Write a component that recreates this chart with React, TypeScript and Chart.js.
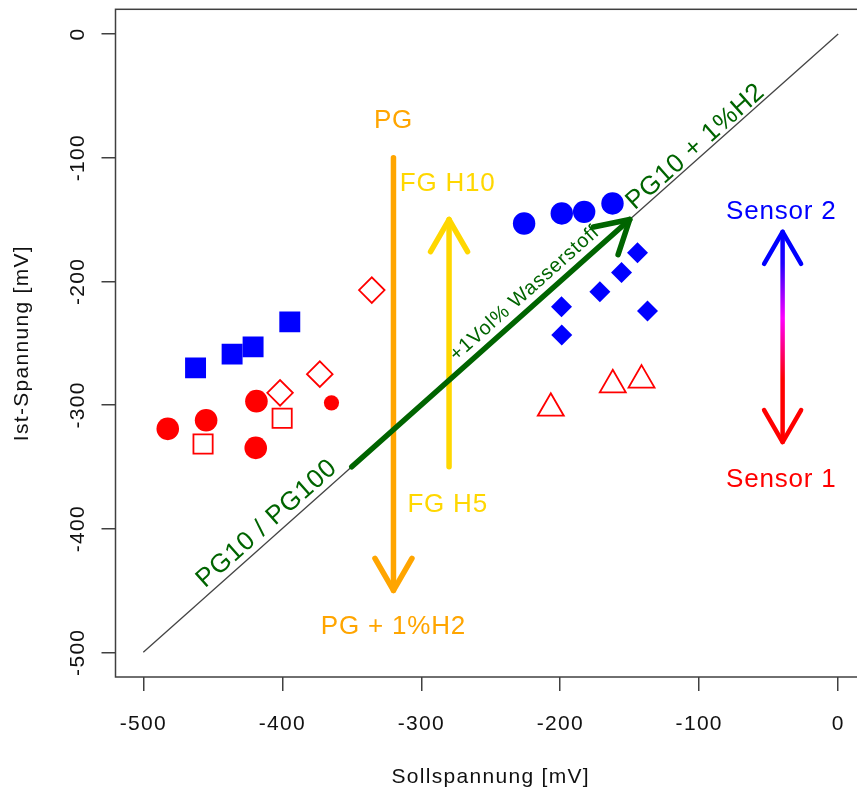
import { useEffect, useRef } from "react";
import { Chart, registerables } from "chart.js";

Chart.register(...registerables);

const FONT = '"Liberation Sans", Arial, Helvetica, sans-serif';

// Axis ticks (mV)
const xTickValues = [-500, -400, -300, -200, -100, 0];
const yTickValues = [-500, -400, -300, -200, -100, 0];

// Sensor 2 (blue) measurements
const s2SquareX = [-462.4, -436.1, -421.0, -394.6];
const s2SquareY = [-270.0, -258.9, -253.0, -232.8];
const s2CircleX = [-226.0, -198.9, -182.8, -162.4];
const s2CircleY = [-153.2, -145.1, -143.8, -137.0];
const s2DiamondX = [-144.4, -155.9, -171.5, -199.1, -137.2, -198.9];
const s2DiamondY = [-176.9, -192.8, -208.5, -220.6, -223.9, -243.5];

// Sensor 1 (red) measurements
const s1CircleX = [-482.4, -454.8, -418.6, -419.1];
const s1CircleY = [-319.3, -312.3, -296.9, -334.7];
const s1DotX = [-364.6];
const s1DotY = [-298.3];
const s1OpenSquareX = [-457.0, -400.1];
const s1OpenSquareY = [-331.5, -310.7];
const s1OpenDiamondX = [-401.6, -373.0, -335.6];
const s1OpenDiamondY = [-290.2, -275.1, -207.1];
const s1TriangleX = [-206.8, -162.2, -141.5];
const s1TriangleY = [-302.6, -283.7, -279.9];

// Reference line Ist = Soll
const identityX = [-500, 0];
const identityY = [-500, 0];

// Arrows: [start, end] in mV
const pgArrow = [[-320, -100], [-320, -450]];
const fgArrow = [[-280, -350], [-280, -150]];
const h2Arrow = [[-350, -350], [-150, -150]];
const sensorArrow = [[-40, -330], [-40, -160]];

// Annotation texts and their anchors (mV)
const labelText = [
  "PG",
  "PG + 1%H2",
  "FG H10",
  "FG H5",
  "Sensor 2",
  "Sensor 1",
  "PG10 / PG100",
  "PG10 + 1%H2",
  "+1Vol% Wasserstoff",
];
const labelX = [-320, -320, -281, -281, -41, -41, -411, -102.6, -225.5];
const labelY = [-70, -479.5, -121.5, -380.8, -143.7, -360.8, -396, -91.2, -209.8];

const ORANGE = "#FFA500";
const GOLD = "#FFD700";
const GREEN = "#006400";
const BLUE = "#0000FF";
const RED = "#FF0000";
const AXIS = "#404040";

const labelColor = [ORANGE, ORANGE, GOLD, GOLD, BLUE, RED, GREEN, GREEN, GREEN];
const labelSize = [26, 26, 26, 26, 26, 26, 26, 26, 20];
const labelDiagonal = [false, false, false, false, false, false, true, true, true];

const pts = (xs: number[], ys: number[]) => xs.map((x, i) => ({ x, y: ys[i] }));

type P = [number, number];

function drawHead(ctx: CanvasRenderingContext2D, tip: P, from: P, len: number) {
  const ang = Math.atan2(tip[1] - from[1], tip[0] - from[0]);
  const spread = Math.PI / 6;
  ctx.beginPath();
  ctx.moveTo(tip[0] - len * Math.cos(ang - spread), tip[1] - len * Math.sin(ang - spread));
  ctx.lineTo(tip[0], tip[1]);
  ctx.lineTo(tip[0] - len * Math.cos(ang + spread), tip[1] - len * Math.sin(ang + spread));
  ctx.stroke();
}

// axis text is slightly tracked out
const spacing = {
  id: "spacing",
  beforeDraw(chart: any) {
    (chart.ctx as any).letterSpacing = "1.3px";
  },
  afterDraw(chart: any) {
    (chart.ctx as any).letterSpacing = "0px";
  },
};

const frame = {
  id: "frame",
  beforeDatasetsDraw(chart: any) {
    const { ctx, chartArea: a } = chart;
    ctx.save();
    ctx.strokeStyle = AXIS;
    ctx.lineWidth = 1.5;
    ctx.strokeRect(a.left, a.top, a.right - a.left, a.bottom - a.top);
    ctx.restore();
  },
};

const annotations = {
  id: "annotations",
  afterDatasetsDraw(chart: any) {
    const { ctx } = chart;
    const xs = chart.scales.x;
    const ys = chart.scales.y;
    const px = (p: number[]): P => [xs.getPixelForValue(p[0]), ys.getPixelForValue(p[1])];
    const HEAD = 37;

    ctx.save();
    ctx.lineCap = "round";
    ctx.lineJoin = "round";

    const simple = (arr: number[][], color: string, w: number) => {
      const a = px(arr[0]);
      const b = px(arr[1]);
      ctx.strokeStyle = color;
      ctx.lineWidth = w;
      ctx.beginPath();
      ctx.moveTo(a[0], a[1]);
      ctx.lineTo(b[0], b[1]);
      ctx.stroke();
      drawHead(ctx, b, a, HEAD);
    };

    simple(pgArrow, ORANGE, 5.5);
    simple(fgArrow, GOLD, 5.5);
    simple(h2Arrow, GREEN, 5.5);

    // double-headed sensor arrow with red -> magenta -> blue gradient
    const lo = px(sensorArrow[0]);
    const hi = px(sensorArrow[1]);
    const grad = ctx.createLinearGradient(0, hi[1], 0, lo[1]);
    grad.addColorStop(0, BLUE);
    grad.addColorStop(0.15, "#2000FF");
    grad.addColorStop(0.41, "#FF00FF");
    grad.addColorStop(0.7, RED);
    grad.addColorStop(1, RED);
    ctx.strokeStyle = grad;
    ctx.lineWidth = 4.5;
    ctx.beginPath();
    ctx.moveTo(lo[0], lo[1]);
    ctx.lineTo(hi[0], hi[1]);
    ctx.stroke();
    ctx.strokeStyle = BLUE;
    drawHead(ctx, hi, lo, HEAD);
    ctx.strokeStyle = RED;
    drawHead(ctx, lo, hi, HEAD);

    // text along the identity line uses its on-screen angle
    const d0 = px([identityX[0], identityY[0]]);
    const d1 = px([identityX[1], identityY[1]]);
    const diagAngle = Math.atan2(d1[1] - d0[1], d1[0] - d0[0]);

    ctx.textAlign = "center";
    ctx.textBaseline = "middle";
    (ctx as any).letterSpacing = "0.8px";
    labelText.forEach((t, i) => {
      const p = px([labelX[i], labelY[i]]);
      ctx.save();
      ctx.translate(p[0], p[1]);
      if (labelDiagonal[i]) ctx.rotate(diagAngle);
      ctx.fillStyle = labelColor[i];
      ctx.font = `${labelSize[i]}px ${FONT}`;
      ctx.fillText(t, 0, 0);
      ctx.restore();
    });
    ctx.restore();
  },
};

const noEdgePadding = (s: any) => {
  s.paddingTop = 0;
  s.paddingBottom = 0;
  s.paddingLeft = 0;
  s.paddingRight = 0;
};

export default function App() {
  const ref = useRef<HTMLCanvasElement>(null);

  useEffect(() => {
    const canvas = ref.current;
    if (!canvas) return;

    const filled = (data: any[], color: string, style: string, r: number) => ({
      data,
      pointStyle: style,
      pointRadius: r,
      backgroundColor: color,
      borderColor: color,
      borderWidth: 0,
      showLine: false,
    });
    const open = (data: any[], color: string, style: string, r: number) => ({
      data,
      pointStyle: style,
      pointRadius: r,
      backgroundColor: "rgba(0,0,0,0)",
      borderColor: color,
      borderWidth: 1.8,
      showLine: false,
    });

    const chart = new Chart(canvas, {
      type: "scatter",
      data: {
        datasets: [
          filled(pts(s2SquareX, s2SquareY), BLUE, "rect", 14.8),
          filled(pts(s2CircleX, s2CircleY), BLUE, "circle", 11.2),
          filled(pts(s2DiamondX, s2DiamondY), BLUE, "rectRot", 10.5),
          filled(pts(s1CircleX, s1CircleY), RED, "circle", 11.3),
          filled(pts(s1DotX, s1DotY), RED, "circle", 7.6),
          open(pts(s1OpenSquareX, s1OpenSquareY), RED, "rect", 13.6),
          open(pts(s1OpenDiamondX, s1OpenDiamondY), RED, "rectRot", 12.8),
          open(pts(s1TriangleX, s1TriangleY), RED, "triangle", 15),
          {
            data: pts(identityX, identityY),
            showLine: true,
            pointRadius: 0,
            borderColor: "#444444",
            borderWidth: 1.3,
            order: 10,
          } as any,
        ] as any,
      },
      options: {
        animation: false,
        responsive: false,
        events: [],
        layout: { autoPadding: false, padding: { top: 9.3, right: 14, left: 0, bottom: 0 } },
        plugins: {
          legend: { display: false },
          tooltip: { enabled: false },
        },
        scales: {
          x: {
            type: "linear",
            min: -520,
            max: 20,
            afterBuildTicks: (s: any) => {
              s.ticks = xTickValues.map((v) => ({ value: v }));
            },
            afterFit: (s: any) => {
              s.height = 117;
              noEdgePadding(s);
            },
            border: { display: false },
            grid: {
              display: true,
              drawOnChartArea: false,
              drawTicks: true,
              tickLength: 14,
              color: AXIS,
              lineWidth: 1.5,
            },
            ticks: {
              autoSkip: false,
              minRotation: 0,
              maxRotation: 0,
              padding: 21,
              color: "#111",
              font: { family: FONT, size: 21 },
              callback: (v: any) => String(v),
            },
            title: {
              display: true,
              text: "Sollspannung [mV]",
              color: "#111",
              font: { family: FONT, size: 21 },
              padding: { top: 0, bottom: 4 },
            },
          },
          y: {
            type: "linear",
            min: -520,
            max: 20,
            afterBuildTicks: (s: any) => {
              s.ticks = yTickValues.map((v) => ({ value: v }));
            },
            afterFit: (s: any) => {
              s.width = 115.5;
              noEdgePadding(s);
            },
            border: { display: false },
            grid: {
              display: true,
              drawOnChartArea: false,
              drawTicks: true,
              tickLength: 14,
              color: AXIS,
              lineWidth: 1.5,
            },
            ticks: {
              autoSkip: false,
              minRotation: 90,
              maxRotation: 90,
              crossAlign: "center",
              padding: 2,
              color: "#111",
              font: { family: FONT, size: 21 },
              callback: (v: any) => String(v),
            },
            title: {
              display: true,
              text: "Ist-Spannung [mV]",
              color: "#111",
              font: { family: FONT, size: 21 },
              padding: { top: 10, bottom: 0 },
            },
          },
        },
      } as any,
      plugins: [spacing, frame, annotations],
    });

    return () => chart.destroy();
  }, []);

  return (
    <div
      style={{
        position: "absolute",
        left: 0,
        top: 0,
        width: 857,
        height: 794,
        overflow: "hidden",
        background: "#ffffff",
      }}
    >
      <canvas ref={ref} width={880} height={794} style={{ display: "block", width: 880, height: 794 }} />
    </div>
  );
}
